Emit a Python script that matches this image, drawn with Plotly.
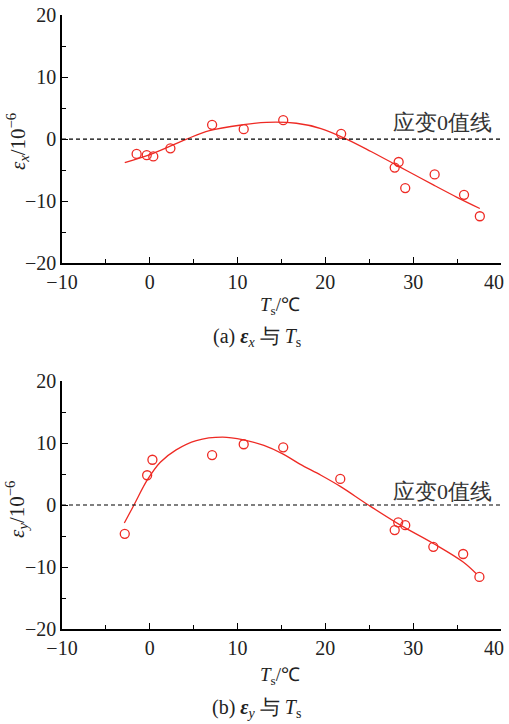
import plotly.graph_objects as go

# ---- data ----
ts_a = [-1.5, -0.35, 0.4, 2.35, 7.1, 10.7, 15.2, 21.8, 27.9, 28.35, 29.1, 32.45, 35.8, 37.6]
ex_a = [-2.4, -2.6, -2.8, -1.5, 2.3, 1.6, 3.05, 0.85, -4.6, -3.7, -7.9, -5.7, -9.0, -12.45]

fit_ts_a = [-2.85, 0.4, 4.2, 6.8, 10.6, 13.3, 16.7, 19.5, 22.4, 25.2, 28.1, 30.2, 32.3, 35.0, 37.6]
fit_ex_a = [-3.8, -2.3, 0.0, 1.35, 2.3, 2.7, 2.55, 1.7, 0.0, -2.0, -4.2, -5.8, -7.4, -9.4, -11.2]

ts_b = [-2.85, -0.3, 0.3, 7.1, 10.7, 15.2, 21.7, 27.9, 28.3, 29.1, 32.3, 35.7, 37.55]
ey_b = [-4.65, 4.8, 7.3, 8.05, 9.8, 9.3, 4.2, -4.05, -2.8, -3.25, -6.75, -7.9, -11.6]

fit_ts_b = [-2.9, -1.8, -0.3, 1.2, 3.0, 5.3, 8.3, 10.7, 13.0, 15.2, 17.1, 19.5, 21.7, 24.9, 28.5, 32.3, 35.7, 37.2]
fit_ey_b = [-2.9, 0.0, 4.0, 6.9, 8.9, 10.4, 10.95, 10.5, 9.6, 8.2, 6.6, 4.8, 3.0, 0.0, -3.2, -6.2, -9.2, -11.1]

x_ticks = [-10, 0, 10, 20, 30, 40]
y_ticks = [-20, -10, 0, 10, 20]

RED = "#ee2a24"
SERIF = "Liberation Serif"
CJK = "Liberation Serif"

fig = go.Figure()

def add_panel(xs, ys, fx, fy, xa, ya):
    fig.add_trace(go.Scatter(x=fx, y=fy, mode="lines", line=dict(color=RED, width=1.3, shape="spline", smoothing=1.0),
                             xaxis=xa, yaxis=ya, showlegend=False, hoverinfo="skip"))
    fig.add_trace(go.Scatter(x=xs, y=ys, mode="markers",
                             marker=dict(symbol="circle-open", size=9, color=RED, line=dict(width=1.3, color=RED)),
                             xaxis=xa, yaxis=ya, showlegend=False))

add_panel(ts_a, ex_a, fit_ts_a, fit_ex_a, "x", "y")
add_panel(ts_b, ey_b, fit_ts_b, fit_ey_b, "x2", "y2")

axis_common = dict(showline=True, linecolor="black", linewidth=1.5, showgrid=False, zeroline=False,
                   ticks="inside", ticklen=6, tickwidth=1.3, tickcolor="black", automargin=False,
                   ticklabeloverflow="allow",
                   tickfont=dict(family=SERIF, size=20, color="#222"))

# last x tick label is drawn separately (nudged left so it stays inside the page)
x_ticktext = [str(v).replace("-", "−") for v in x_ticks[:-1]] + [""]
xax = dict(axis_common, range=[-10, 40.01], tickvals=x_ticks, ticktext=x_ticktext,
           minor=dict(ticks="inside", dtick=5, tick0=0, ticklen=4, tickwidth=1.2, tickcolor="black"))
yax = dict(axis_common, range=[-20, 20.01], tickvals=y_ticks, ticktext=[str(v).replace("-", "−") for v in y_ticks],
           minor=dict(ticks="inside", dtick=5, tick0=0, ticklen=4, tickwidth=1.2, tickcolor="black"))

top_dom = [0.596, 1.0]
bot_dom = [0.0, 0.404]

fig.update_layout(
    width=509, height=724,
    margin=dict(l=62, r=8, t=15, b=95),
    paper_bgcolor="white", plot_bgcolor="white",
    font=dict(family=SERIF),
    xaxis=dict(xax, domain=[0, 1], anchor="y"),
    yaxis=dict(yax, domain=top_dom, anchor="x"),
    xaxis2=dict(xax, domain=[0, 1], anchor="y2"),
    yaxis2=dict(yax, domain=bot_dom, anchor="x2"),
)

for ya, xa in (("y", "x"), ("y2", "x2")):
    fig.add_shape(type="line", xref=f"{xa} domain", yref=ya, x0=0, x1=1, y0=0, y1=0,
                  line=dict(color="black", width=1.2, dash="4px,3px"))

ann = []
for xa, ya in (("x", "y"), ("x2", "y2")):
    ann.append(dict(text=str(x_ticks[-1]), xref=xa, yref=ya, x=x_ticks[-1], y=y_ticks[0],
                    xanchor="right", yanchor="middle", xshift=5, yshift=-19, showarrow=False,
                    font=dict(family=SERIF, size=20, color="#222")))
# zero-line labels
ann.append(dict(text="应变0值线", xref="x", yref="y", x=39.2, y=2.6, xanchor="right", yanchor="middle",
                showarrow=False, font=dict(family=CJK, size=22, color="#333")))
ann.append(dict(text="应变0值线", xref="x2", yref="y2", x=39.2, y=2.25, xanchor="right", yanchor="middle",
                showarrow=False, font=dict(family=CJK, size=22, color="#333")))
# x titles
ann.append(dict(text="<i>T</i><sub>s</sub>/℃", xref="paper", yref="paper", x=0.497, y=0.526,
                xanchor="center", yanchor="middle", showarrow=False, font=dict(family=CJK, size=19, color="#222")))
ann.append(dict(text="<i>T</i><sub>s</sub>/℃", xref="paper", yref="paper", x=0.497, y=-0.0767,
                xanchor="center", yanchor="middle", showarrow=False, font=dict(family=CJK, size=19, color="#222")))
# y titles
ann.append(dict(text="<i>ε</i><sub><i>x</i></sub>/10<sup>−6</sup>", xref="paper", yref="paper", x=-0.1025, y=0.793,
                xanchor="center", yanchor="middle", textangle=-90, showarrow=False,
                font=dict(family=SERIF, size=21, color="#222")))
ann.append(dict(text="<i>ε</i><sub><i>y</i></sub>/10<sup>−6</sup>", xref="paper", yref="paper", x=-0.1025, y=0.194,
                xanchor="center", yanchor="middle", textangle=-90, showarrow=False,
                font=dict(family=SERIF, size=21, color="#222")))
# captions
ann.append(dict(text="(a) <b><i>ε</i></b><sub><i>x</i></sub> 与 <i>T</i><sub>s</sub>", xref="paper", yref="paper",
                x=0.444, y=0.474, xanchor="center", yanchor="middle", showarrow=False,
                font=dict(family=CJK, size=20, color="#222")))
ann.append(dict(text="(b) <b><i>ε</i></b><sub><i>y</i></sub> 与 <i>T</i><sub>s</sub>", xref="paper", yref="paper",
                x=0.444, y=-0.1287, xanchor="center", yanchor="middle", showarrow=False,
                font=dict(family=CJK, size=20, color="#222")))
fig.update_layout(annotations=ann)

fig.write_html("out.html", config={"displayModeBar": False},
               post_script="document.body.style.margin='0';document.body.style.padding='0';")
